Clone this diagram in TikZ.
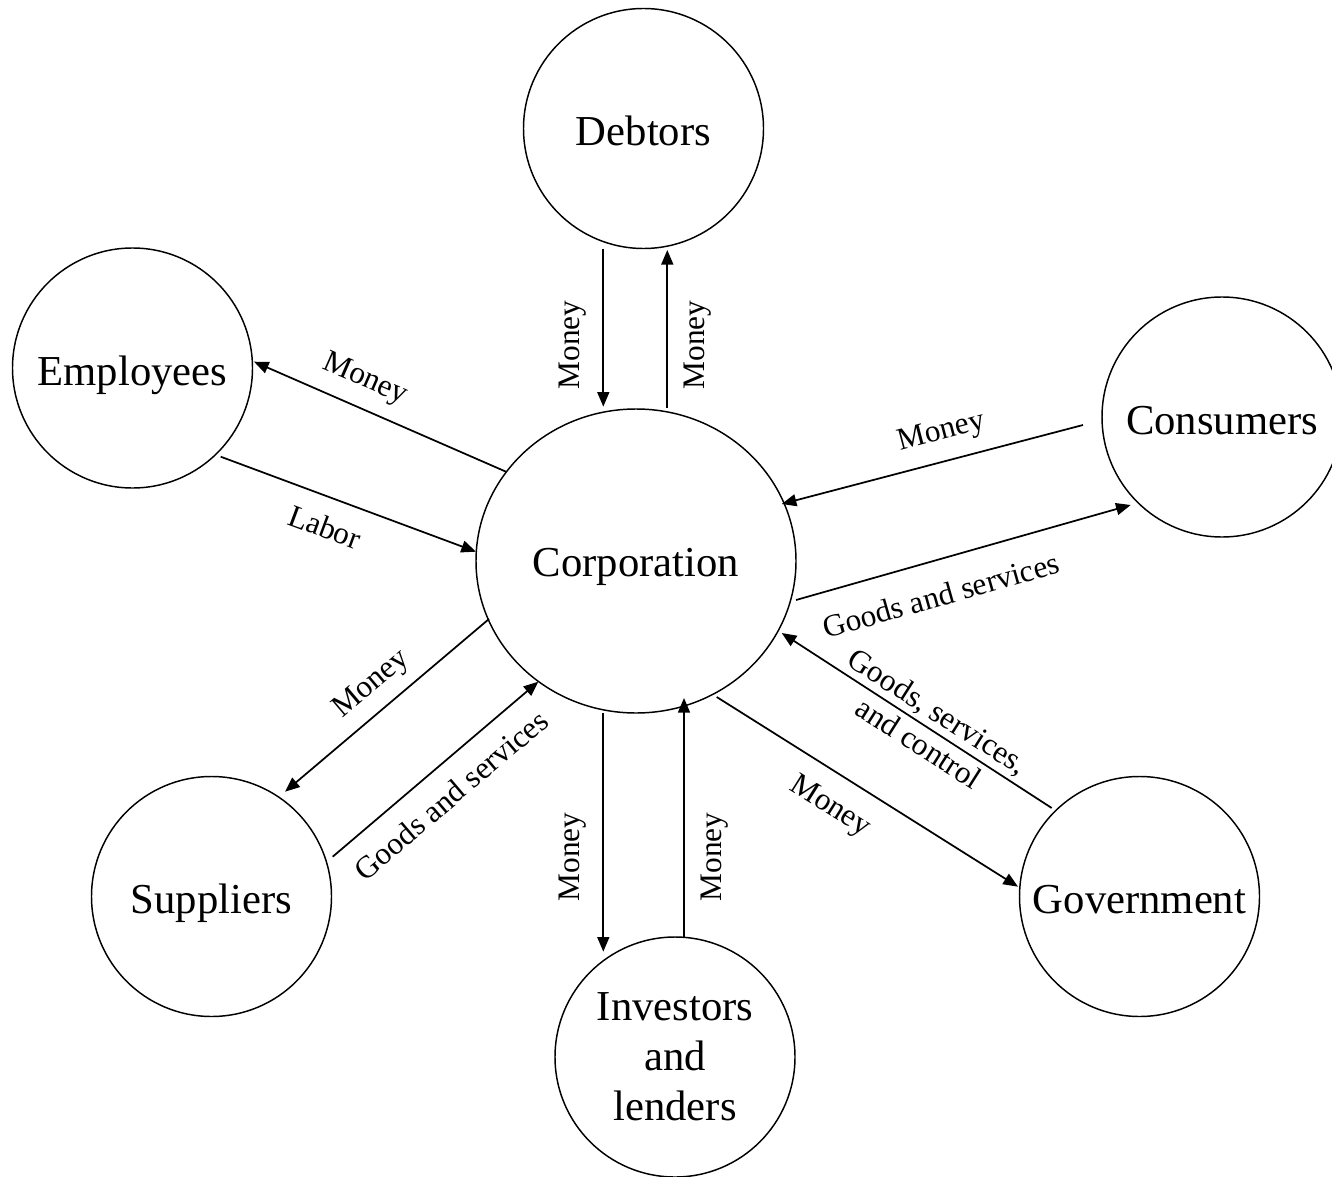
\documentclass[tikz,border=0pt]{standalone}
\usepackage{fontspec}
\setmainfont{Liberation Serif}
\usetikzlibrary{arrows.meta,shapes.geometric}
\begin{document}
\begin{tikzpicture}[x=0.75pt,y=-0.75pt,
  entbase/.style={circle,draw,line width=1.1pt,minimum size=180pt,inner sep=0pt,
    font=\fontsize{32}{37.5}\selectfont},
  ent/.style={entbase,text height=32.6pt,text depth=7pt},
  corpbox/.style={ellipse,draw,line width=1.1pt,minimum width=240pt,minimum height=228pt,
    inner sep=0pt,font=\fontsize{32}{37.5}\selectfont,text height=30.4pt,text depth=7pt},
  lbl/.style={font=\fontsize{23.5}{24}\selectfont,inner sep=0pt},
  flow/.style={-{Triangle[length=11pt,width=9pt]},line width=1.3pt}]
\useasboundingbox (0,0) rectangle (1332,1177);

% entities
\node[corpbox] (corp) at (636,561) {Corporation};
\node[ent] (debt) at (643.5,128.5) {Debtors};
\node[ent] (empl) at (132.5,368) {Employees};
\node[ent] (cons) at (1222,417) {Consumers};
\node[ent] (supp) at (211.5,896.5) {Suppliers};
\node[entbase,align=center] (inv) at (675,1057) {Investors\\and\\lenders};
\node[ent] (gov) at (1139.5,896.5) {Government};

% connector end points
\coordinate (dA) at (603.3,249);   \coordinate (dB) at (603.3,406.7);
\coordinate (dC) at (667.3,408);   \coordinate (dD) at (667.3,250);
\coordinate (eA) at (506,471.7);   \coordinate (eB) at (254,361.7);
\coordinate (eC) at (220.7,456.7); \coordinate (eD) at (476,551.7);
\coordinate (cA) at (1083,425);    \coordinate (cB) at (781.7,504);
\coordinate (cC) at (796,600);     \coordinate (cD) at (1130.7,505);
\coordinate (sA) at (489,619);     \coordinate (sB) at (285,791.7);
\coordinate (sC) at (332.7,856.7); \coordinate (sD) at (538.3,681.7);
\coordinate (iA) at (603.3,713);   \coordinate (iB) at (603.3,951.7);
\coordinate (iC) at (684,936.7);   \coordinate (iD) at (684,698);
\coordinate (gA) at (716.7,697);   \coordinate (gB) at (1018,886.7);
\coordinate (gC) at (1051.7,808);  \coordinate (gD) at (781.7,633);

% connectors
\draw[flow] (dA) -- (dB);
\draw[flow] (dC) -- (dD);
\draw[flow] (eA) -- (eB);
\draw[flow] (eC) -- (eD);
\draw[flow] (cA) -- (cB);
\draw[flow] (cC) -- (cD);
\draw[flow] (sA) -- (sB);
\draw[flow] (sC) -- (sD);
\draw[flow] (iA) -- (iB);
\draw[flow] (iC) -- (iD);
\draw[flow] (gA) -- (gB);
\draw[flow] (gC) -- (gD);

% labels
\node[lbl,rotate=90] (l1) at (572.7,345) {Money};
\node[lbl,rotate=90] (l2) at (698,345) {Money};
\node[lbl,rotate=-23.6] (l3) at (365,380) {Money};
\node[lbl,rotate=-20.4] (l4) at (325,527) {Labor};
\node[lbl,rotate=14.7] (l5) at (941.7,433) {Money};
\node[lbl,rotate=15.8] (l6) at (941,595) {Goods and services};
\node[lbl,rotate=40.3] (l7) at (371.7,685) {Money};
\node[lbl,rotate=40.4] (l8) at (451,795) {Goods and services};
\node[lbl,rotate=90] (l9) at (573,857) {Money};
\node[lbl,rotate=90] (l10) at (715,857) {Money};
\node[lbl,rotate=-32.2] (l11) at (830,807) {Money};
\node[lbl,rotate=-32.5] (l12a) at (937,713) {Goods, services,};
\node[lbl,rotate=-32.5] (l12b) at (919,743) {and control};
\end{tikzpicture}
\end{document}
